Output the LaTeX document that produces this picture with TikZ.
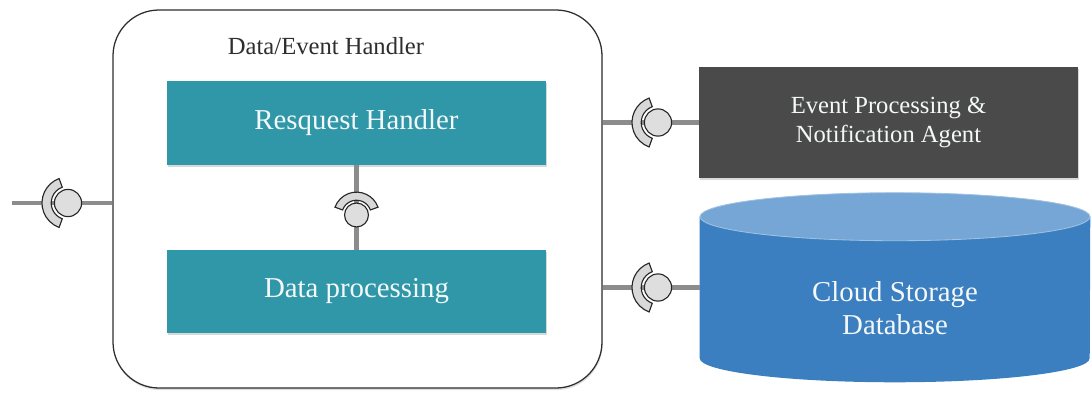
\documentclass[tikz,border=0pt]{standalone}
\usepackage{fontspec}
\setmainfont{Liberation Serif}
\usetikzlibrary{positioning,calc,shadows,backgrounds}
\definecolor{hteal}{HTML}{2F97A8}
\definecolor{hdark}{HTML}{4A4A4A}
\definecolor{hblue}{HTML}{3B7FC0}
\definecolor{hbluetop}{HTML}{76A6D5}
\definecolor{hwire}{HTML}{8C8C8C}
\definecolor{hsock}{HTML}{D8D8D8}
\definecolor{htext}{HTML}{2E2E2E}
\definecolor{hwhite}{HTML}{F4F8F8}
\tikzset{
  outerbox/.style={draw=htext, line width=0.9pt, fill=white, rounded corners=1.15cm,
                   minimum width=12.225cm, minimum height=9.45cm,
                   drop shadow={shadow xshift=0.5pt, shadow yshift=-1.5pt, opacity=0.25}},
  tealbox/.style={fill=hteal, minimum width=9.475cm, minimum height=2.1cm, text=hwhite,
                  font=\fontsize{20.5}{24}\selectfont,
                  drop shadow={shadow xshift=0.5pt, shadow yshift=-1.5pt, opacity=0.3}},
  darkbox/.style={fill=hdark, minimum width=9.475cm, minimum height=2.775cm, text=hwhite,
                  align=center, font=\fontsize{17.5}{20}\selectfont,
                  drop shadow={shadow xshift=0.5pt, shadow yshift=-1.5pt, opacity=0.3}},
  dbbody/.style={minimum width=9.75cm, minimum height=3.525cm},
  dbtext/.style={text=hwhite, align=center, font=\fontsize{20.5}{23.5}\selectfont},
  wire/.style={draw=hwire, line width=3.5pt},
  iface/.pic={
    \filldraw[fill=hsock, draw=black!85, line width=0.8pt]
      (110:0.65) arc[start angle=110, end angle=250, radius=0.65]
      -- (250:0.42) arc[start angle=250, end angle=110, radius=0.42] -- cycle;
    \filldraw[fill=hsock!85, draw=black!85, line width=0.8pt] (0,0) circle (0.34);
  }}
\begin{document}
\begin{tikzpicture}
  \useasboundingbox (0,0) rectangle (27.3,9.8);
  % data/event handler
  \node[outerbox] (handler) at (8.9375,4.825) {};
  \node[anchor=west, text=htext, font=\fontsize{17.5}{20}\selectfont] (hlabel) at (5.575,8.65) {Data/Event Handler};
  \node[tealbox] (req) at (8.9125,6.725) {Resquest Handler};
  \node[tealbox, minimum height=2.075cm] (proc) at (8.9125,2.5125) {Data processing};
  % right side
  \node[darkbox] (event) at (22.2125,6.7375) {Event Processing \&\\Notification Agent};
  \node[dbbody] (db) at (22.375,2.6125) {};
  \node[dbtext] (dblabel) at (22.375,2.1) {Cloud Storage\\Database};
  \begin{scope}[on background layer]
    \fill[hblue] (db.north west) -- (db.south west)
      arc[start angle=180, end angle=360, x radius=4.875cm, y radius=0.6cm]
      -- (db.north east) -- cycle;
    \filldraw[fill=hbluetop, draw=hbluetop!70!white, line width=0.6pt] (db.north)
      ellipse[x radius=4.875cm, y radius=0.6cm];
  \end{scope}
  % connectors
  \coordinate (in) at (0.3,4.725);
  \draw[wire] (in) -- (in -| handler.west);
  \draw[wire] (handler.east |- event.west) -- (event.west);
  \draw[wire] (handler.east |- db.west) -- (db.west);
  \draw[wire] (req.south) -- (proc.north);
  \pic at (1.7,4.725) {iface};
  \pic at (16.45,6.7375) {iface};
  \pic at (16.45,2.6125) {iface};
  \pic[rotate=-90, scale=0.88] at (req.south |- 0,4.425) {iface};
\end{tikzpicture}
\end{document}
